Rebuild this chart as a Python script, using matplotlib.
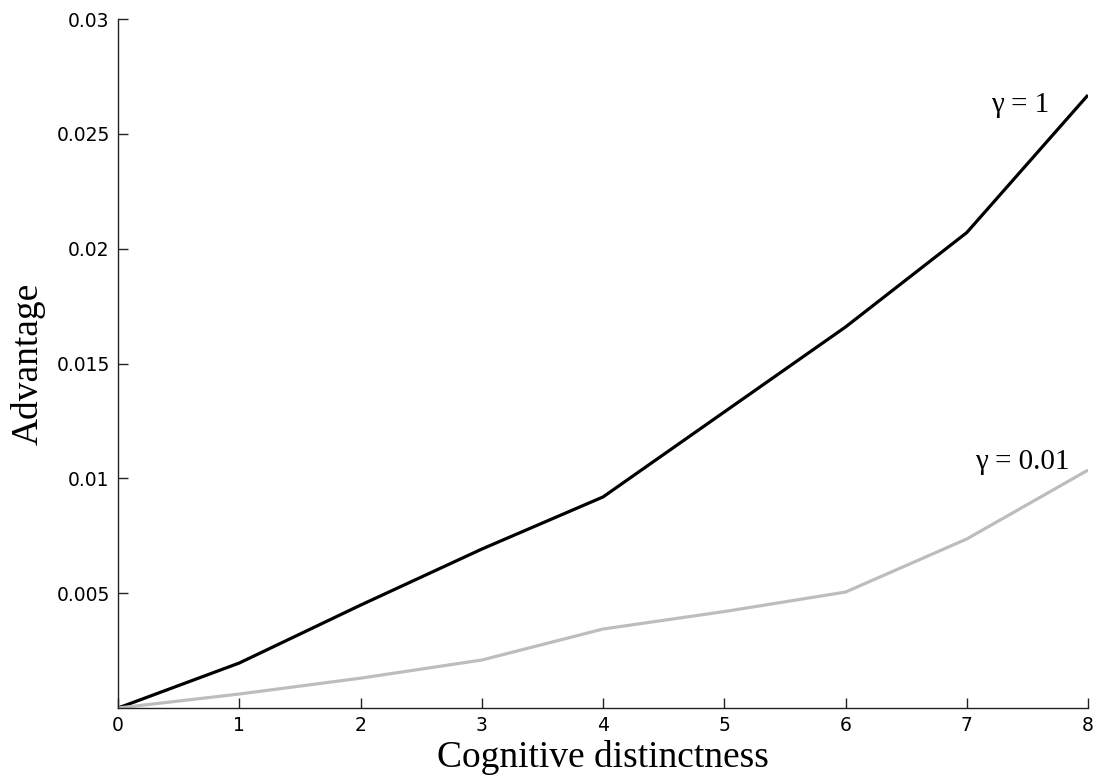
import numpy as np
import matplotlib
matplotlib.use('Agg')
import matplotlib.pyplot as plt

# data
distinctness = [0, 1, 2, 3, 4, 5, 6, 7, 8]
adv_gamma_1 = [0, 0.00196, 0.00448, 0.00692, 0.00919, 0.01289, 0.01659, 0.0207, 0.02669]
adv_gamma_001 = [0, 0.00061, 0.0013, 0.00209, 0.00344, 0.0042, 0.00505, 0.00736, 0.01036]

y_ticks = [0.005, 0.01, 0.015, 0.02, 0.025, 0.03]
y_tick_labels = ['0.005', '0.01', '0.015', '0.02', '0.025', '0.03']

serif = ['Liberation Serif', 'DejaVu Serif']

fig = plt.figure(figsize=(10.95, 7.79), dpi=100)
ax = fig.add_axes([0.1078, 0.0911, 0.8858, 0.8845])

ax.plot(distinctness, adv_gamma_1, color='black', lw=2.3, solid_capstyle='butt')
ax.plot(distinctness, adv_gamma_001, color='#bdbdbd', lw=2.3, solid_capstyle='butt')

ax.set_xlim(0, 8)
ax.set_ylim(0, 0.03)
ax.set_xticks(distinctness)
ax.set_yticks(y_ticks)
ax.set_yticklabels(y_tick_labels)

for s in ['top', 'right']:
    ax.spines[s].set_visible(False)
for s in ['left', 'bottom']:
    ax.spines[s].set_color('#222222')
    ax.spines[s].set_linewidth(1.0)

ax.tick_params(direction='in', length=7, width=1.0, color='#222222', labelsize=13.5, pad=6)

ax.set_xlabel('Cognitive distinctness', family=serif, fontsize=27, labelpad=3)
ax.set_ylabel('Advantage', family=serif, fontsize=27, labelpad=8)

ax.text(7.44, 0.02625, '\u03b3 = 1', family=serif, fontsize=21, ha='center', va='center')
ax.text(7.46, 0.01071, '\u03b3 = 0.01', family=serif, fontsize=21, ha='center', va='center')

fig.savefig('out.png', dpi=100)
